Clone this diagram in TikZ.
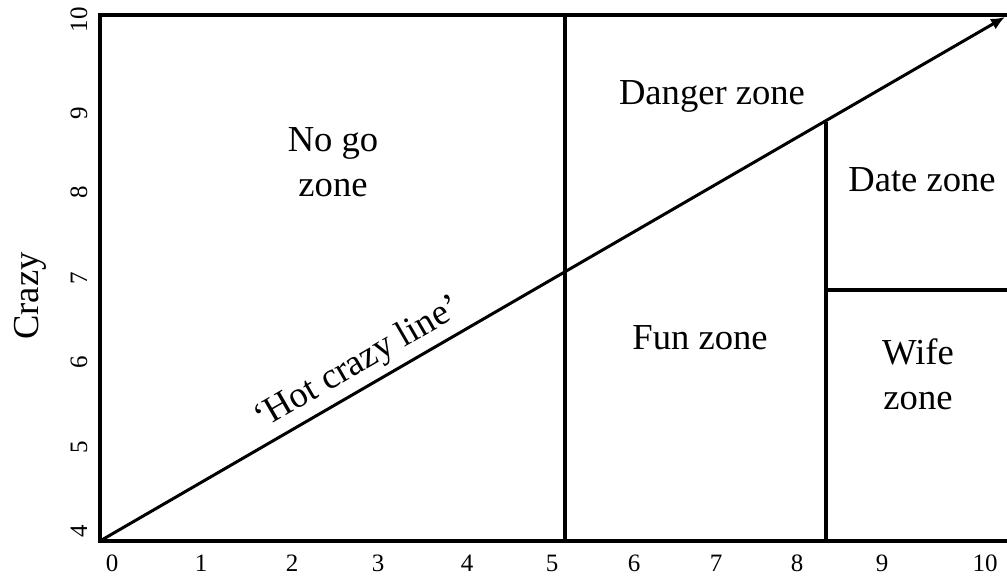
\documentclass[tikz,border=0pt]{standalone}
\usepackage{fontspec}
\setmainfont{Liberation Serif}
\usetikzlibrary{arrows.meta}
\tikzset{zonelabel/.style={font=\fontsize{18.3}{22.5}\selectfont,align=center},
  ticklabel/.style={font=\fontsize{12.5}{14}\selectfont,inner sep=0pt},
  frameline/.style={line width=2pt}}
\begin{document}
\begin{tikzpicture}[x=0.5pt,y=-0.5pt,>=Latex]
\useasboundingbox (0,0) rectangle (1007,576);
\coordinate (origin) at (100,541);
\coordinate (topleft) at (100,15);
\coordinate (topright) at (1007,15);
\coordinate (botright) at (1007,541);
\coordinate (tip) at (1005,17);
\coordinate (midtop) at (565,15);
\coordinate (midbot) at (565,541);
\coordinate (datetop) at (826,122);
\coordinate (datebot) at (826,541);
\coordinate (wifeleft) at (826,290);
\coordinate (wiferight) at (1007,290);
\draw[frameline] (topright) -- (topleft) -- (origin) -- (botright);
\draw[frameline] (midtop) -- (midbot);
\draw[frameline] (datetop) -- (datebot);
\draw[frameline] (wifeleft) -- (wiferight);
\draw[line width=1.5pt,-{Latex[length=7pt,width=6pt]}] (origin) -- (tip);
\foreach \px/\lab in {112/0,201/1,292/2,378/3,467/4,552/5,634/6,716/7,797/8,882/9,985/10}
  \node[ticklabel] (xt\lab) at (\px,563) {\lab};
\foreach \py/\lab in {531/4,447/5,362/6,278/7,192/8,113/9,20/10}
  \node[ticklabel,rotate=90] (yt\lab) at (79,\py) {\lab};
\node[zonelabel,rotate=90] (ylab) at (30,296) {Crazy};
\node[zonelabel] (nogo) at (333,162) {No go\\zone};
\node[zonelabel] (danger) at (712,96) {Danger zone};
\node[zonelabel] (date) at (922,180) {Date zone};
\node[zonelabel] (fun) at (700,338) {Fun zone};
\node[zonelabel] (wife) at (918,374) {Wife\\zone};
\node[zonelabel,rotate=30] (hotcrazy) at (358,364) {`Hot crazy line'};
\end{tikzpicture}
\end{document}
